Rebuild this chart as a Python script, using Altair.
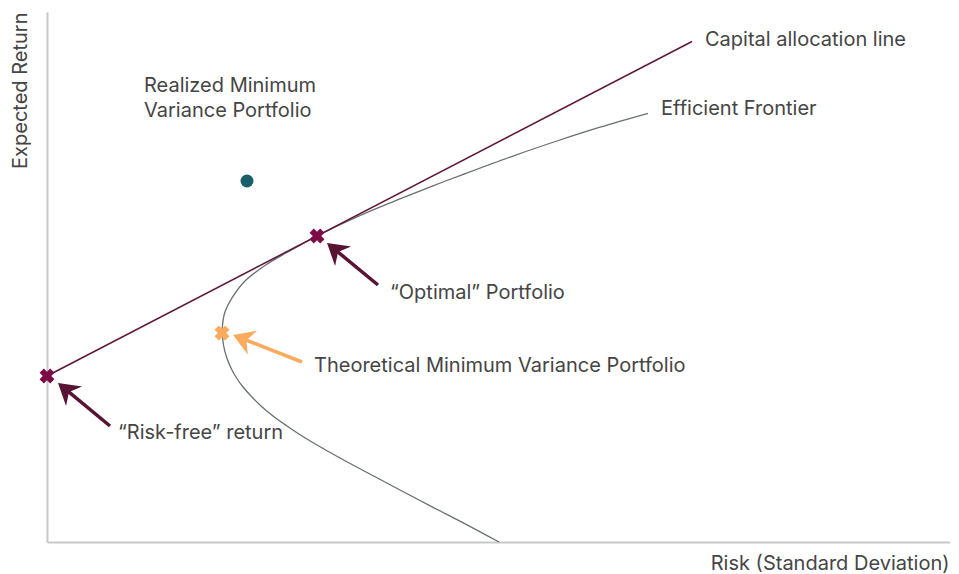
import math
import altair as alt
import pandas as pd

# ---- values (risk, return in chart units) ----
frontier_risk = [60.1, 55.3, 51.3, 46.8, 41.5, 38.6, 35.3, 31.8, 29.3, 27.8, 27.0,
                 25.8, 23.8, 21.8, 19.8, 18.47, 17.8, 17.55, 17.53,
                 17.65, 17.95, 18.4, 18.95, 19.6, 20.4, 21.4, 22.6, 24.0, 25.5,
                 27.0, 29.3, 32.0, 35.3, 38.6, 42.0, 45.2]
frontier_return = [42.87, 41.48, 40.2, 38.67, 36.72, 35.62, 34.31, 32.87, 31.74, 31.02, 30.6,
                   29.95, 28.85, 27.65, 26.1, 24.37, 23.03, 21.7, 20.87,
                   19.7, 18.5, 17.4, 16.4, 15.5, 14.6, 13.6, 12.6, 11.6, 10.6,
                   9.7, 8.4, 6.95, 5.2, 3.47, 1.72, 0.0]

cal_risk = [0.0, 64.5]
cal_return = [16.6, 50.05]

x_marker_names = ["Risk-free", "Optimal", "Theoretical MVP"]
x_marker_risk = [0.0, 27.0, 17.5]
x_marker_return = [16.6, 30.6, 20.9]
x_marker_colors = ["#7d0b46", "#7d0b46", "#fbaa5e"]

dot_risk = [20.0]
dot_return = [36.1]

arrow_tail_risk = [33.1, 25.5, 6.3]
arrow_tail_return = [25.7, 18.0, 11.6]
arrow_tip_risk = [28.0, 18.6, 1.1]
arrow_tip_return = [29.9, 20.7, 15.9]
arrow_colors = ["#571433", "#fbaa5e", "#571433"]

label_texts = ["Capital allocation line", "Efficient Frontier", "Realized Minimum",
               "Variance Portfolio", "\u201cOptimal\u201d Portfolio",
               "Theoretical Minimum Variance Portfolio", "\u201cRisk-free\u201d return"]
label_risk = [65.8, 61.4, 9.7, 9.7, 34.3, 26.7, 7.1]
label_return = [49.6, 42.7, 45.0, 42.5, 24.3, 17.0, 10.3]

X_MAX = 90.3
Y_MAX = 53.0
FONT = "Inter"
FS = 20
TEXT_COLOR = "#454545"

# ---- tables ----
frontier_df = pd.DataFrame({"x": frontier_risk, "y": frontier_return,
                            "i": list(range(len(frontier_risk)))})
cal_df = pd.DataFrame({"x": cal_risk, "y": cal_return})
xm_df = pd.DataFrame({"x": x_marker_risk, "y": x_marker_return,
                      "c": x_marker_colors, "name": x_marker_names})
dot_df = pd.DataFrame({"x": dot_risk, "y": dot_return})

shaft_rows = []
head_rows = []
for tx, ty, hx, hy, col in zip(arrow_tail_risk, arrow_tail_return,
                               arrow_tip_risk, arrow_tip_return, arrow_colors):
    dx, dy = hx - tx, hy - ty
    L = math.hypot(dx, dy)
    back = 1.2  # shaft stops under the arrow head
    ex, ey = hx - dx / L * back, hy - dy / L * back
    shaft_rows.append({"x": tx, "y": ty, "x2": ex, "y2": ey, "c": col})
    ang = math.degrees(math.atan2(dx, dy)) % 360
    head_rows.append({"x": hx, "y": hy, "a": ang, "c": col})
shaft_df = pd.DataFrame(shaft_rows)
head_df = pd.DataFrame(head_rows)
label_df = pd.DataFrame({"x": label_risk, "y": label_return, "t": label_texts})

xscale = alt.Scale(domain=[0, X_MAX], nice=False, zero=False)
yscale = alt.Scale(domain=[0, Y_MAX], nice=False, zero=False)

x_axis = alt.Axis(domain=True, domainColor="#c8c8c8", domainWidth=2, ticks=False,
                  labels=False, grid=False, title="Risk (Standard Deviation)",
                  titleX=902, titleY=27, titleAlign="right", titleBaseline="alphabetic",
                  titleFont=FONT, titleFontSize=FS, titleFontWeight="normal",
                  titleColor=TEXT_COLOR)
y_axis = alt.Axis(domain=True, domainColor="#c8c8c8", domainWidth=2, ticks=False,
                  labels=False, grid=False, title="Expected Return",
                  titleX=-21, titleY=0, titleAngle=270, titleAlign="right",
                  titleBaseline="alphabetic", titleFont=FONT, titleFontSize=FS,
                  titleFontWeight="normal", titleColor=TEXT_COLOR)

X = alt.X("x:Q", scale=xscale, axis=x_axis)
Y = alt.Y("y:Q", scale=yscale, axis=y_axis)

frontier = alt.Chart(frontier_df).mark_line(
    color="#6a6f71", strokeWidth=1.3, interpolate="catmull-rom"
).encode(x=X, y=Y, order="i:Q")

cal = alt.Chart(cal_df).mark_line(color="#5e1739", strokeWidth=1.5).encode(x=X, y=Y)

shafts = alt.Chart(shaft_df).mark_rule(strokeWidth=3.5).encode(
    x=X, y=Y, x2="x2:Q", y2="y2:Q", color=alt.Color("c:N", scale=None))

heads = alt.Chart(head_df).mark_point(
    shape="M0,0 L1.15,1.9 L0,1.3 L-1.15,1.9 Z", filled=True, size=484, opacity=1
).encode(x=X, y=Y, angle=alt.Angle("a:Q", scale=None),
         color=alt.Color("c:N", scale=None))

xmarks = alt.Chart(xm_df).mark_point(
    shape="cross", angle=45, filled=True, size=225, opacity=1
).encode(x=X, y=Y, color=alt.Color("c:N", scale=None))

dot = alt.Chart(dot_df).mark_point(
    shape="circle", filled=True, size=169, opacity=1, color="#185f6b"
).encode(x=X, y=Y)

labels = alt.Chart(label_df).mark_text(
    align="left", baseline="alphabetic", font=FONT, fontSize=FS, color=TEXT_COLOR
).encode(x=X, y=Y, text="t:N")

chart = alt.layer(frontier, cal, shafts, heads, xmarks, dot, labels).properties(
    width=903, height=530,
    autosize=alt.AutoSizeParams(type="none"),
    padding={"left": 39, "top": 4, "right": 0, "bottom": 32},
    background="white",
).configure_view(strokeWidth=0)

chart.save("out.html", embed_options={"renderer": "svg", "actions": False})
